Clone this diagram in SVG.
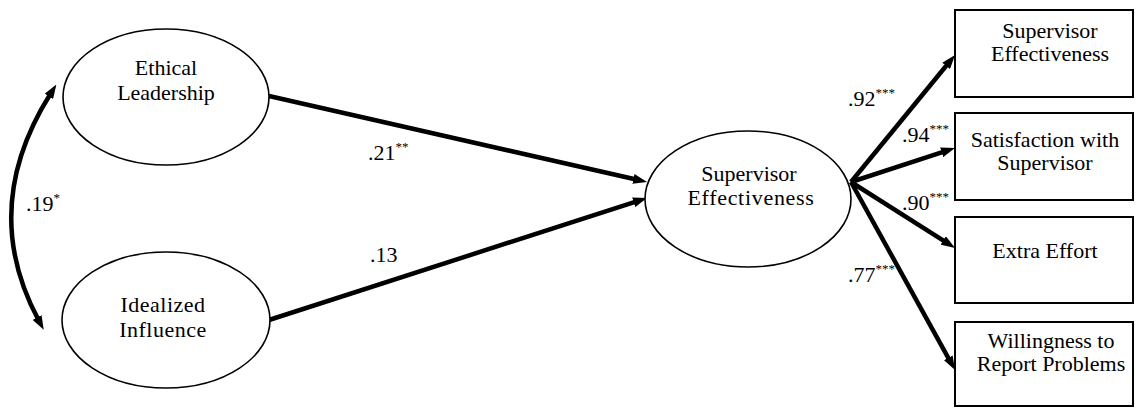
<svg xmlns="http://www.w3.org/2000/svg" width="1136" height="408" viewBox="0 0 1136 408" font-family="'Liberation Serif', 'DejaVu Serif', 'Times New Roman', serif">
<style>
  text { font-family: 'Liberation Serif', 'DejaVu Serif', 'Times New Roman', serif; font-size: 22px; fill: #000; }
  .c { text-anchor: middle; }
  .sup { font-size: 13px; }
  .node ellipse { fill: #fff; stroke: #000; stroke-width: 1.6; }
  .node rect { fill: #fff; stroke: #000; stroke-width: 2; }
  .edge { fill: none; stroke: #000; stroke-width: 4.5; }
</style>
<defs>
  <marker id="ah" viewBox="0 0 14 10" refX="4" refY="5" markerWidth="14" markerHeight="10" markerUnits="userSpaceOnUse" orient="auto-start-reverse">
    <path d="M0,0 L14,5 L0,10 z" fill="#000"/>
  </marker>
</defs>
<rect width="1136" height="408" fill="#fff"/>

<g id="connectors">
  <path class="edge" d="M269,96 L637.3,179.8" marker-end="url(#ah)"/>
  <path class="edge" d="M269,320 L637.5,201.1" marker-end="url(#ah)"/>
  <path class="edge" d="M851,182 L948.7,62.7" marker-end="url(#ah)"/>
  <path class="edge" d="M851,182 L945.5,151.1" marker-end="url(#ah)"/>
  <path class="edge" d="M851,182 L946.6,242.6" marker-end="url(#ah)"/>
  <path class="edge" d="M851,182 L950.2,361.3" marker-end="url(#ah)"/>
  <path class="edge" d="M51,93 Q-22,208 39,321" marker-start="url(#ah)" marker-end="url(#ah)"/>
</g>

<g id="labels">
  <text x="26" y="211">.19<tspan class="sup" dy="-9">*</tspan></text>
  <text x="368" y="160">.21<tspan class="sup" dy="-9">**</tspan></text>
  <text x="370" y="262">.13</text>
  <text x="848" y="106">.92<tspan class="sup" dy="-9">***</tspan></text>
  <text x="902" y="142">.94<tspan class="sup" dy="-9">***</tspan></text>
  <text x="902" y="210">.90<tspan class="sup" dy="-9">***</tspan></text>
  <text x="848" y="282">.77<tspan class="sup" dy="-9">***</tspan></text>
</g>

<g id="ethical" class="node">
  <ellipse cx="166" cy="97" rx="103" ry="68"/>
  <text class="c" x="166" y="75">Ethical</text>
  <text class="c" x="166" y="100">Leadership</text>
</g>
<g id="idealized" class="node">
  <ellipse cx="166" cy="320" rx="104" ry="68"/>
  <text class="c" x="163" y="312" letter-spacing="0.5">Idealized</text>
  <text class="c" x="163" y="337" letter-spacing="0.5">Influence</text>
</g>
<g id="supeff" class="node">
  <ellipse cx="748" cy="199" rx="103" ry="68"/>
  <text class="c" x="749" y="181">Supervisor</text>
  <text class="c" x="751" y="205" letter-spacing="0.7">Effectiveness</text>
</g>

<g id="box1" class="node">
  <rect x="955" y="10" width="178" height="87"/>
  <text class="c" x="1050" y="38">Supervisor</text>
  <text class="c" x="1050" y="61">Effectiveness</text>
</g>
<g id="box2" class="node">
  <rect x="955" y="113" width="178" height="87"/>
  <text class="c" x="1045" y="147">Satisfaction with</text>
  <text class="c" x="1045" y="170">Supervisor</text>
</g>
<g id="box3" class="node">
  <rect x="955" y="217" width="178" height="86"/>
  <text class="c" x="1045" y="258">Extra Effort</text>
</g>
<g id="box4" class="node">
  <rect x="955" y="322" width="178" height="84"/>
  <text class="c" x="1051" y="348">Willingness to</text>
  <text class="c" x="1051" y="371">Report Problems</text>
</g>
</svg>
